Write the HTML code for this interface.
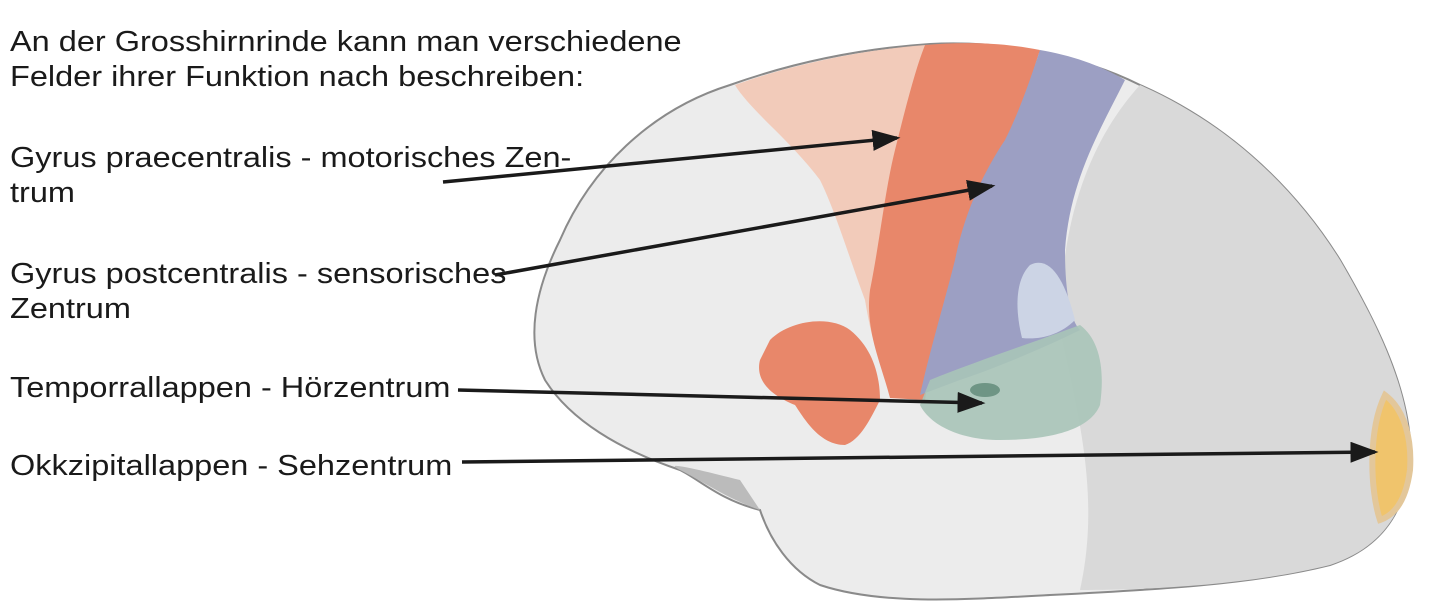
<!DOCTYPE html>
<html><head><meta charset="utf-8"><style>
html,body{margin:0;padding:0;background:#fff;width:1430px;height:610px;overflow:hidden}
.t{position:absolute;left:10px;font-family:"Liberation Sans",sans-serif;font-size:29px;color:#1a1a1a;line-height:35px;white-space:nowrap;transform:scaleX(1.12);transform-origin:0 0}
</style></head><body>
<svg width="1430" height="610" style="position:absolute;left:0;top:0">
<defs>
<marker id="a" markerWidth="8" markerHeight="6" refX="7" refY="3" orient="auto" markerUnits="strokeWidth"><path d="M0,0 L8,3 L0,6 z" fill="#1a1a1a"/></marker>
</defs>
<path d="M560,240 C590,170 650,110 730,85 C800,60 870,48 930,44 C1000,40 1080,55 1140,85 C1220,120 1290,180 1340,260 C1375,320 1405,380 1410,440 C1412,500 1390,545 1330,565 C1250,585 1150,590 1050,595 C960,600 880,605 820,585 C790,570 770,540 760,510 C720,500 700,480 680,470 C620,450 570,420 545,380 C525,340 535,290 560,240 Z" fill="#ececec" stroke="#8a8a8a" stroke-width="2"/>
<path d="M1140,85 C1220,120 1290,180 1340,260 C1375,320 1405,380 1410,440 C1412,500 1390,545 1330,565 C1250,585 1150,590 1080,590 C1100,500 1080,420 1060,330 C1060,220 1090,140 1140,85 Z" fill="#d9d9d9"/>
<path d="M760,510 C730,500 700,480 680,470 C660,460 700,470 740,480 Z" fill="#bbb"/>
<path d="M735,85 C790,65 860,50 925,45 L900,390 C880,380 870,330 865,300 C850,260 835,210 820,180 C790,140 750,110 735,85 Z" fill="#f3c6b2" opacity="0.85"/>
<path d="M925,45 C960,42 1000,42 1040,50 C1030,80 1020,120 1000,150 C975,190 965,240 955,280 C945,320 930,360 925,400 L890,398 C880,360 865,330 870,290 C880,240 885,190 895,150 C905,110 915,70 925,45 Z" fill="#e8876a"/>
<path d="M1040,50 C1070,55 1100,65 1125,80 C1100,130 1070,180 1065,250 C1065,290 1070,320 1080,330 C1040,350 990,370 960,380 L920,395 C930,350 945,300 955,260 C965,210 985,170 1005,140 C1020,110 1030,80 1040,50 Z" fill="#9c9fc3"/>
<path d="M1030,265 C1050,255 1065,280 1075,320 C1060,335 1040,340 1022,338 C1015,310 1015,280 1030,265 Z" fill="#ccd4e5"/>
<path d="M930,380 C980,360 1040,340 1080,325 C1100,340 1105,370 1100,405 C1090,430 1050,440 1000,440 C960,440 930,425 920,405 Z" fill="#a8c4b8" opacity="0.9"/>
<ellipse cx="985" cy="390" rx="15" ry="7" fill="#6f9585"/>
<path d="M770,340 C790,320 830,315 850,330 C875,350 880,380 880,400 C870,420 860,440 845,445 C820,445 805,420 795,405 C770,395 755,380 760,360 Z" fill="#e8876a"/>
<path d="M1385,395 C1405,410 1412,440 1410,470 C1406,500 1395,515 1380,520 C1370,490 1368,430 1385,395 Z" fill="#f0c46c" stroke="#e3c79a" stroke-width="6"/>
<g stroke="#1a1a1a" stroke-width="3.5" fill="none">
<line x1="443" y1="182" x2="897" y2="138" marker-end="url(#a)"/>
<line x1="495" y1="275" x2="992" y2="186" marker-end="url(#a)"/>
<line x1="458" y1="390" x2="982" y2="403" marker-end="url(#a)"/>
<line x1="462" y1="462" x2="1375" y2="452" marker-end="url(#a)"/>
</g>
</svg>
<div class="t" style="top:25px">An der Grosshirnrinde kann man verschiedene</div>
<div class="t" style="top:60px">Felder ihrer Funktion nach beschreiben:</div>
<div class="t" style="top:141px">Gyrus praecentralis - motorisches Zen-</div>
<div class="t" style="top:176px">trum</div>
<div class="t" style="top:257px">Gyrus postcentralis - sensorisches</div>
<div class="t" style="top:292px">Zentrum</div>
<div class="t" style="top:371px">Temporrallappen - Hörzentrum</div>
<div class="t" style="top:449px">Okkzipitallappen - Sehzentrum</div>
</body></html>
